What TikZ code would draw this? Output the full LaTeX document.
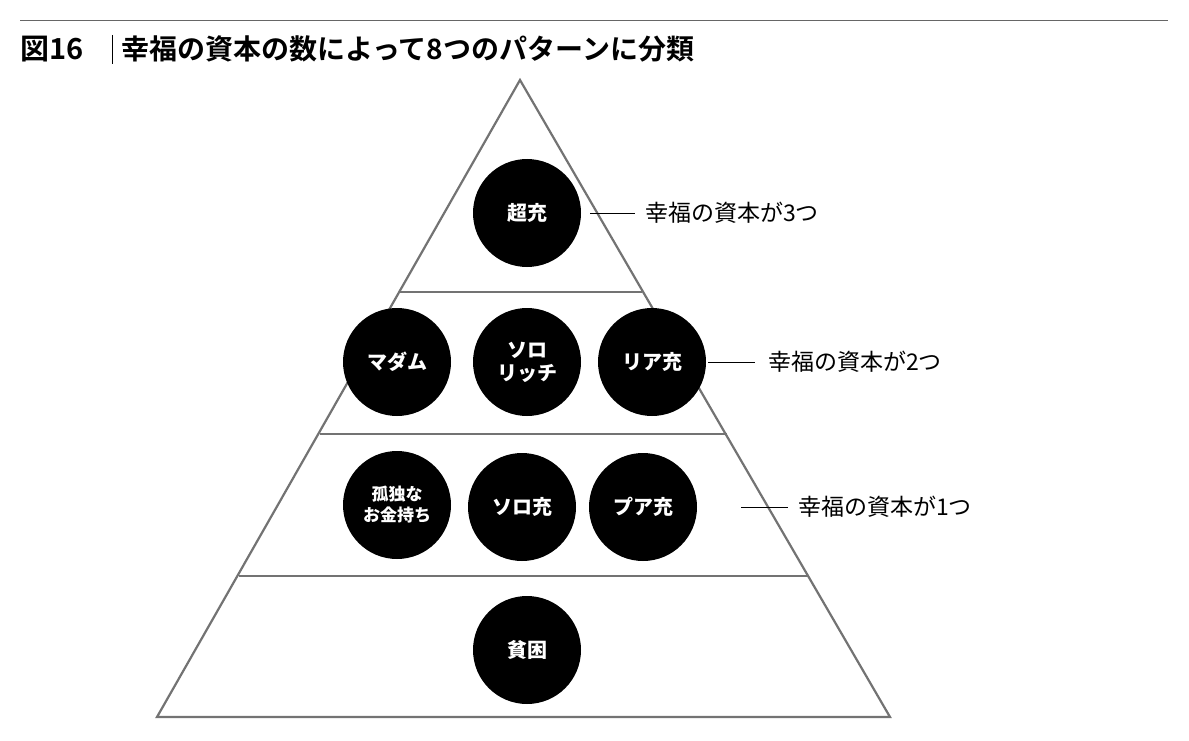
\documentclass[tikz,border=0pt]{standalone}
\usepackage{fontspec}
\setmainfont{Noto Sans CJK JP}
\newfontfamily\jpb{Noto Sans CJK JP Bold}
\begin{document}
\begin{tikzpicture}[x=1pt,y=-1pt,
  circ/.style={circle,fill=black,minimum size=108pt,inner sep=0pt,text=white,font=\fontsize{20}{23}\selectfont\bfseries,align=center},
  lab/.style={anchor=west,font=\fontsize{23}{26}\selectfont,inner sep=0pt},
  tri/.style={draw=black!55,line width=2.2pt}]
\useasboundingbox (0,0) rectangle (1189,741);
\draw[black!60,line width=0.8pt] (20,20) -- (1168,20);
\node[anchor=west,inner sep=0pt] (title) at (20,49) {\jpb\fontsize{29}{32}\selectfont 図16};
\draw[line width=0.8pt] (112,35) -- (112,64);
\node[anchor=west,inner sep=0pt] (title2) at (121,49) {\jpb\fontsize{28}{32}\selectfont 幸福の資本の数によって8つのパターンに分類};
\draw[tri,line join=miter] (520,80) -- (890,717) -- (157,717) -- cycle;
\draw[tri] (400,292) -- (642,292);
\draw[tri] (320,434) -- (727,434);
\draw[tri] (239,576) -- (808,576);
\node[circ] (a) at (527,213) {超充};
\node[circ] (b1) at (397,362) {マダム};
\node[circ] (b2) at (527,362) {ソロ\\リッチ};
\node[circ] (b3) at (652,362) {リア充};
\node[circ,font=\fontsize{17}{21}\selectfont\bfseries] (c1) at (397,505) {孤独な\\お金持ち};
\node[circ] (c2) at (522,507) {ソロ充};
\node[circ] (c3) at (643,507) {プア充};
\node[circ] (d) at (527,650) {貧困};
\node[lab] (l1) at (645,213) {幸福の資本が3つ};
\node[lab] (l2) at (768,362) {幸福の資本が2つ};
\node[lab] (l3) at (798,507) {幸福の資本が1つ};
\draw[line width=1pt] (590,213) -- ([xshift=-10pt]l1.west);
\draw[line width=1pt] (708,362) -- ([xshift=-13pt]l2.west);
\draw[line width=1pt] (741,507) -- ([xshift=-10pt]l3.west);
\end{tikzpicture}
\end{document}
